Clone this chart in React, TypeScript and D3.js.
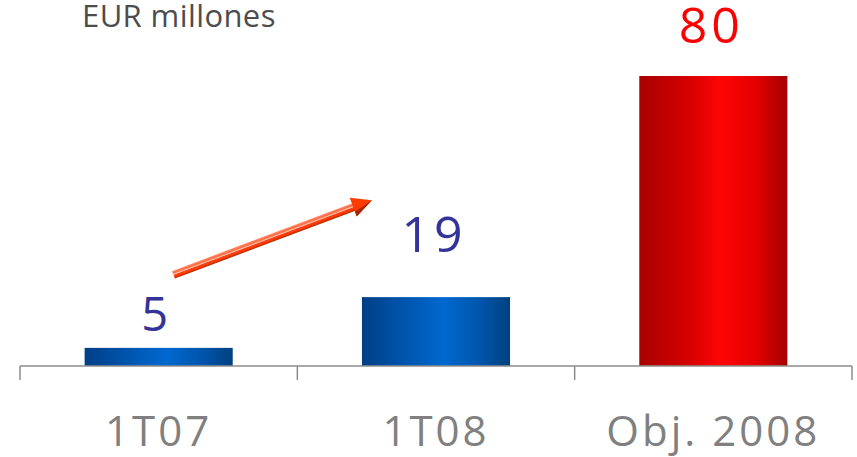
import React from "react";
import * as d3 from "d3";

const categories = ["1T07", "1T08", "Obj. 2008"];
const values = [5, 19, 80];
const valueLabels = ["5", "19", "80"];
const title = "EUR millones";

const W = 857;
const H = 457;
const labelGap = [17, 45, 33];
const labelSize = [47, 50, 50];

export default function App() {
  const x = d3
    .scaleBand<string>()
    .domain(categories)
    .range([20, 852])
    .paddingInner(0.466)
    .paddingOuter(0.233);
  const y = d3.scaleLinear().domain([0, 80]).range([366, 76]);
  const baseY = y(0);
  const ticks = [20, ...categories.map((c) => (x(c) as number) + x.bandwidth() + (x.step() - x.bandwidth()) / 2)];

  // arrow annotation between 1T07 and 1T08
  const ax0 = (x("1T07") as number) + x.bandwidth() * 0.6;
  const ay0 = y(5) - 73;
  const ax1 = (x("1T08") as number) + 10;
  const ay1 = y(19) - 97;
  const ang = Math.atan2(ay1 - ay0, ax1 - ax0);
  const len = Math.hypot(ax1 - ax0, ay1 - ay0);
  const deg = (ang * 180) / Math.PI;

  return (
    <svg width={W} height={H} style={{ position: "absolute", left: 0, top: 0 }}>
      <defs>
        <linearGradient id="gBlue" x1="0" x2="1" y1="0" y2="0">
          <stop offset="0" stopColor="#003f86" />
          <stop offset="0.25" stopColor="#0052a8" />
          <stop offset="0.55" stopColor="#0068cf" />
          <stop offset="0.8" stopColor="#0055ab" />
          <stop offset="1" stopColor="#00407f" />
        </linearGradient>
        <linearGradient id="gRed" x1="0" x2="1" y1="0" y2="0">
          <stop offset="0" stopColor="#a80000" />
          <stop offset="0.3" stopColor="#d00000" />
          <stop offset="0.55" stopColor="#ff0505" />
          <stop offset="0.8" stopColor="#e00000" />
          <stop offset="1" stopColor="#a30000" />
        </linearGradient>
        <linearGradient id="gArrow" x1="0" x2="0" y1="0" y2="1">
          <stop offset="0" stopColor="#ff8a66" />
          <stop offset="0.3" stopColor="#ff6a40" />
          <stop offset="0.45" stopColor="#ffd0c0" />
          <stop offset="0.55" stopColor="#ff4010" />
          <stop offset="0.75" stopColor="#ff3a00" />
          <stop offset="1" stopColor="#a82400" />
        </linearGradient>
      </defs>

      <text
        x={82}
        y={27}
        fontFamily="'Open Sans', sans-serif"
        fontSize={31}
        letterSpacing={0.4}
        fill="#4d4d4d"
      >
        {title}
      </text>

      {categories.map((c, i) => (
        <rect
          key={c}
          x={x(c) as number}
          y={y(values[i])}
          width={x.bandwidth()}
          height={baseY - y(values[i])}
          fill={i === 2 ? "url(#gRed)" : "url(#gBlue)"}
        />
      ))}

      <line x1={20} x2={852} y1={baseY} y2={baseY} stroke="#8c8c8c" strokeWidth={1.5} />
      {ticks.map((t, i) => (
        <line key={i} x1={t} x2={t} y1={baseY} y2={baseY + 14} stroke="#8c8c8c" strokeWidth={1.5} />
      ))}

      {categories.map((c) => (
        <text
          key={c}
          x={(x(c) as number) + x.bandwidth() / 2}
          y={446}
          textAnchor="middle"
          fontFamily="'Open Sans', sans-serif"
          fontSize={42}
          letterSpacing={3}
          fill="#808080"
        >
          {c}
        </text>
      ))}

      {categories.map((c, i) => (
        <text
          key={c}
          x={(x(c) as number) + x.bandwidth() / 2 - 2}
          y={y(values[i]) - labelGap[i]}
          textAnchor="middle"
          fontFamily="'Open Sans', sans-serif"
          fontSize={labelSize[i]}
          letterSpacing={4}
          fill={i === 2 ? "#ff0000" : "#333399"}
        >
          {valueLabels[i]}
        </text>
      ))}

      <g transform={`translate(${ax0},${ay0}) rotate(${deg})`}>
        <rect x={0} y={-4} width={len - 15} height={8} fill="url(#gArrow)" />
        <path d={`M${len - 20},-10 L${len},0 L${len - 20},10 Z`} fill="#ff3c00" />
        <path d={`M${len - 20},5 L${len},0 L${len - 20},10 Z`} fill="#a82400" />
      </g>
    </svg>
  );
}
